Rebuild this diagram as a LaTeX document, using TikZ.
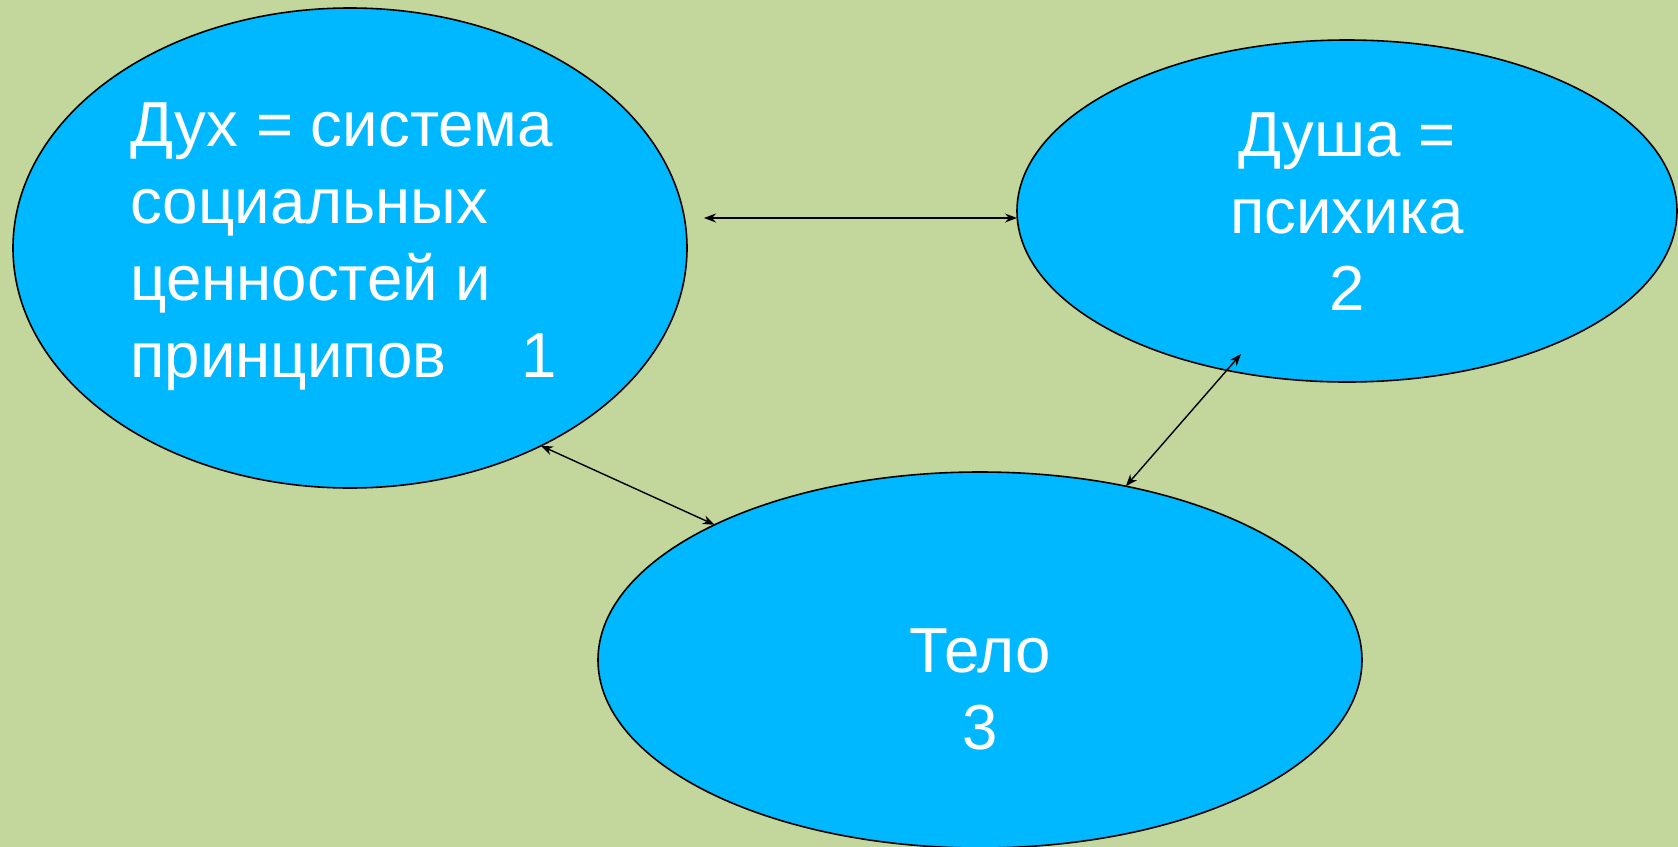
\documentclass[tikz,border=0pt]{standalone}
\usepackage{fontspec}
\setmainfont{Liberation Sans}
\usepackage{xcolor}
\usetikzlibrary{shapes.geometric, arrows.meta}
\definecolor{OliveBack}{HTML}{C3D69B}
\definecolor{SkyFill}{HTML}{00B8FF}
\tikzset{
  blob/.style={ellipse, draw=black, line width=0.8pt, fill=SkyFill, inner sep=0pt, outer sep=0pt},
  blobtext/.style={text=white, inner sep=0pt, font=\fontsize{31.8}{38.5}\selectfont},
  link/.style={{Stealth[length=6pt,width=4.5pt]}-{Stealth[length=6pt,width=4.5pt]}, line width=0.7pt}
}
\begin{document}
\begin{tikzpicture}[x=0.5pt, y=-0.5pt]
    \useasboundingbox[fill=OliveBack] (0,0) rectangle (1678,847); % background
    \node[blob, minimum width=337pt, minimum height=240pt] (dukh) at (350,248) {};
    \node[blob, minimum width=330pt, minimum height=171pt] (dusha) at (1347,211) {};
    \node[blob, minimum width=382pt, minimum height=188pt] (telo) at (980,660) {};
    % texts inside the ellipses
    \node[blobtext, align=left, anchor=north west] (dukhtext) at (130,102.5)
        {Дух = система\\социальных\\ценностей и\\принципов\hspace*{1.18em}1};
    \node[blobtext, align=center, anchor=north] (dushatext) at (1347,112)
        {Душа =\\психика\\2};
    \node[blobtext, align=center, anchor=north] (telotext) at (980,628)
        {Тело\\3};
    % free ends of two links
    \coordinate (dukhend) at (704,218);
    \coordinate (dushaend) at (1241,354);
    \draw[link] (dukhend) -- (dukhend -| dusha.west);
    \draw[link] (dukh.-46.3) -- (telo.153.9);
    \draw[link] (telo.50.2) -- (dushaend);
\end{tikzpicture}
\end{document}
